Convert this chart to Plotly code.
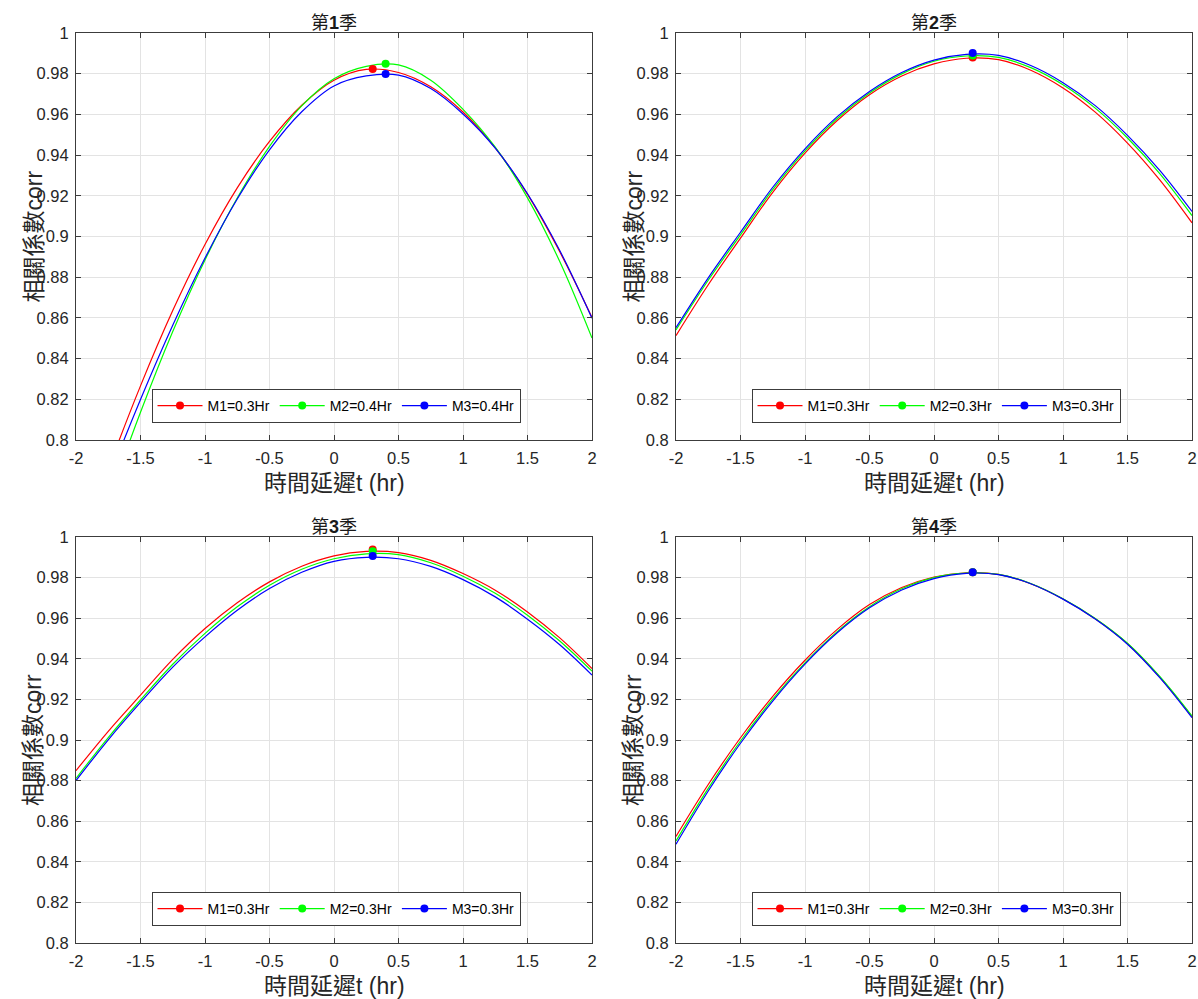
import plotly.graph_objects as go

# ---------------- data ----------------
lag_hr = [-2, -1.75, -1.5, -1.25, -1, -0.75, -0.5, -0.25, 0, 0.25, 0.5, 0.75, 1, 1.25, 1.5, 1.75, 2]

# season 1
s1_m1 = [0.7411, 0.7856, 0.8266, 0.8636, 0.8961, 0.9239, 0.9467, 0.9645, 0.9768, 0.9821, 0.9806, 0.9736, 0.9612, 0.9435, 0.9207, 0.8925, 0.8602]
s1_m2 = [0.7227, 0.7699, 0.8136, 0.8533, 0.8885, 0.9189, 0.9443, 0.9642, 0.9775, 0.9836, 0.9843, 0.9768, 0.9625, 0.9439, 0.919, 0.8877, 0.8501]
s1_m3 = [0.7379, 0.7804, 0.8199, 0.8564, 0.8894, 0.9184, 0.9426, 0.9613, 0.974, 0.9789, 0.9793, 0.9727, 0.9602, 0.9434, 0.921, 0.8931, 0.8598]
# season 2
s2_m1 = [0.8513, 0.8763, 0.8992, 0.9217, 0.941, 0.957, 0.9697, 0.9789, 0.9848, 0.9876, 0.9869, 0.9817, 0.973, 0.9611, 0.9459, 0.9278, 0.9067]
s2_m2 = [0.8541, 0.8785, 0.9008, 0.923, 0.9421, 0.958, 0.9705, 0.9799, 0.9861, 0.9887, 0.988, 0.983, 0.9746, 0.9631, 0.9484, 0.9309, 0.9103]
s2_m3 = [0.8552, 0.8797, 0.9021, 0.9242, 0.9431, 0.9589, 0.9713, 0.9806, 0.9867, 0.9895, 0.989, 0.984, 0.9756, 0.9643, 0.9497, 0.9325, 0.9123]
# season 3
s3_m1 = [0.8849, 0.9043, 0.9221, 0.9397, 0.9549, 0.9676, 0.9779, 0.9856, 0.9907, 0.9929, 0.9923, 0.9885, 0.982, 0.9738, 0.9631, 0.9503, 0.9352]
s3_m2 = [0.8811, 0.9012, 0.9197, 0.9373, 0.9525, 0.9656, 0.9762, 0.9841, 0.9893, 0.9917, 0.9913, 0.9873, 0.9807, 0.9723, 0.9615, 0.9488, 0.9339]
s3_m3 = [0.880, 0.9001, 0.9185, 0.9359, 0.9508, 0.9639, 0.9746, 0.9826, 0.988, 0.990, 0.9893, 0.9855, 0.979, 0.9705, 0.9595, 0.9469, 0.932]
# season 4
s4_m1 = [0.8525, 0.8781, 0.9011, 0.9215, 0.9393, 0.9545, 0.9667, 0.9751, 0.9803, 0.9824, 0.9816, 0.977, 0.9695, 0.9597, 0.9474, 0.931, 0.9115]
s4_m2 = [0.8503, 0.8762, 0.8995, 0.9201, 0.938, 0.9534, 0.9657, 0.9745, 0.980, 0.9822, 0.9816, 0.9771, 0.9696, 0.9599, 0.9477, 0.9313, 0.9118]
s4_m3 = [0.8487, 0.8749, 0.8984, 0.9192, 0.9374, 0.9528, 0.9651, 0.9739, 0.9795, 0.9821, 0.9815, 0.977, 0.9694, 0.9596, 0.9472, 0.9307, 0.911]

# peak (max correlation) points
peak_x = [[0.3, 0.4, 0.4], [0.3, 0.3, 0.3], [0.3, 0.3, 0.3], [0.3, 0.3, 0.3]]
peak_y = [[0.9823, 0.9849, 0.9798], [0.988, 0.989, 0.9902], [0.9938, 0.993, 0.9907], [0.9826, 0.9826, 0.9826]]

legend_labels = [
    ["M1=0.3Hr", "M2=0.4Hr", "M3=0.4Hr"],
    ["M1=0.3Hr", "M2=0.3Hr", "M3=0.3Hr"],
    ["M1=0.3Hr", "M2=0.3Hr", "M3=0.3Hr"],
    ["M1=0.3Hr", "M2=0.3Hr", "M3=0.3Hr"],
]
season_numbers = ["1", "2", "3", "4"]
x_tick_vals = [-2, -1.5, -1, -0.5, 0, 0.5, 1, 1.5, 2]
x_tick_labels = ["-2", "-1.5", "-1", "-0.5", "0", "0.5", "1", "1.5", "2"]
y_tick_vals = [0.8, 0.82, 0.84, 0.86, 0.88, 0.9, 0.92, 0.94, 0.96, 0.98, 1.0]
y_tick_labels = ["0.8", "0.82", "0.84", "0.86", "0.88", "0.9", "0.92", "0.94", "0.96", "0.98", "1"]
x_label = "時間延遲t (hr)"
y_label = "相關係數corr"

series = [[s1_m1, s1_m2, s1_m3], [s2_m1, s2_m2, s2_m3], [s3_m1, s3_m2, s3_m3], [s4_m1, s4_m2, s4_m3]]
colors = ["#ff0000", "#00ff00", "#0000ff"]

# ---------------- layout geometry ----------------
W, H = 1198, 999
boxes = [(76, 592, 33, 440), (676, 1192, 33, 440), (76, 592, 537, 943), (676, 1192, 537, 943)]

FONT = "Liberation Sans, Arial, Noto Sans CJK TC, sans-serif"
AX = "#262626"
FRAME = "#3c3c3c"

fig = go.Figure()
layout = dict(width=W, height=H, margin=dict(l=0, r=0, t=0, b=0, autoexpand=False),
              paper_bgcolor="white", plot_bgcolor="white",
              font=dict(family=FONT, color=AX), showlegend=True)
annotations = []

for i in range(4):
    n = i + 1
    sfx = "" if n == 1 else str(n)
    xa, ya = "x" + sfx, "y" + sfx
    lg = "legend" + sfx
    x0, x1, y0, y1 = boxes[i]
    for j in range(3):
        fig.add_trace(go.Scatter(x=lag_hr, y=series[i][j], mode="lines",
                                 line=dict(color=colors[j], width=1.2, shape="spline", smoothing=1.0),
                                 xaxis=xa, yaxis=ya, showlegend=False, hoverinfo="skip"))
    for j in range(3):
        fig.add_trace(go.Scatter(x=[peak_x[i][j]], y=[peak_y[i][j]], mode="lines+markers",
                                 name=legend_labels[i][j],
                                 line=dict(color=colors[j], width=1.2),
                                 marker=dict(color=colors[j], size=8),
                                 xaxis=xa, yaxis=ya, legend=lg, showlegend=True))
    common = dict(ticks="inside", ticklen=5, tickwidth=1, tickcolor=FRAME,
                  showline=True, linecolor=FRAME, linewidth=1, mirror="ticks",
                  showgrid=True, gridcolor="#e3e3e3", gridwidth=1, zeroline=False,
                  tickfont=dict(family=FONT, size=16.5, color=AX))
    layout["xaxis" + sfx] = dict(common, domain=[x0 / W, x1 / W], anchor=ya, range=[-2, 2],
                                 tickvals=x_tick_vals, ticktext=x_tick_labels, ticklabelstandoff=3)
    layout["yaxis" + sfx] = dict(common, domain=[1 - y1 / H, 1 - y0 / H], anchor=xa, range=[0.8, 1],
                                 tickvals=y_tick_vals, ticktext=y_tick_labels, ticklabelstandoff=3)
    layout[lg] = dict(orientation="h", x=(x0 + x1 + 4) / 2 / W, xanchor="center",
                      y=1 - (y1 - 17) / H, yanchor="bottom",
                      bgcolor="white", bordercolor=FRAME, borderwidth=1,
                      font=dict(family=FONT, size=14, color="#000000"),
                      itemwidth=45, tracegroupgap=0)
    cx = (x0 + x1) / 2
    annotations.append(dict(text="第<b>" + season_numbers[i] + "</b>季", x=cx / W, y=1 - (y0 - 10) / H,
                            xref="paper", yref="paper", xanchor="center", yanchor="middle",
                            showarrow=False, font=dict(family=FONT, size=18, color="#1a1a1a")))
    annotations.append(dict(text=x_label, x=cx / W, y=1 - (y1 + 43) / H,
                            xref="paper", yref="paper", xanchor="center", yanchor="middle",
                            showarrow=False, font=dict(family=FONT, size=23, color=AX)))
    annotations.append(dict(text=y_label, x=(x0 - 43) / W, y=1 - (y0 + y1) / 2 / H,
                            xref="paper", yref="paper", xanchor="center", yanchor="middle",
                            textangle=-90, showarrow=False, font=dict(family=FONT, size=23, color=AX)))

layout["annotations"] = annotations
fig.update_layout(**layout)
fig.write_html("out.html")
